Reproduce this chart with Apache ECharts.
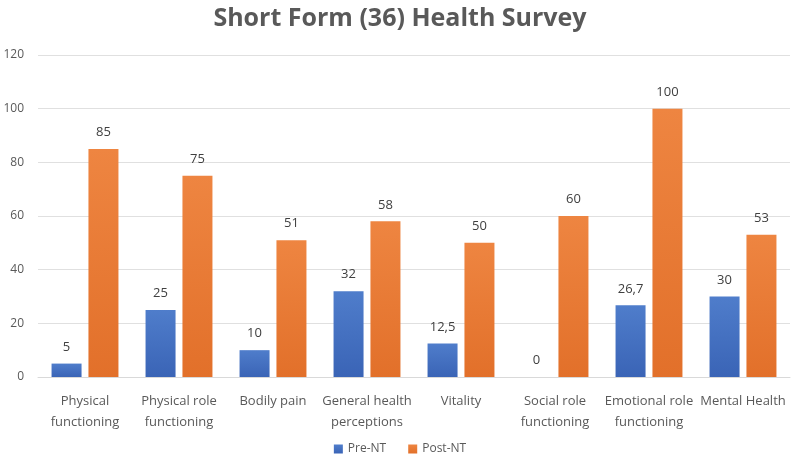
<!DOCTYPE html>
<html><head><meta charset="utf-8">
<script src="https://cdn.jsdelivr.net/npm/echarts@6/dist/echarts.min.js"></script>
<style>html,body{margin:0;padding:0;background:#fff}#c{width:800px;height:461px}</style>
</head><body><div id="c"></div>
<script>
const categories = ["Physical\nfunctioning","Physical role\nfunctioning","Bodily pain","General health\nperceptions","Vitality","Social role\nfunctioning","Emotional role\nfunctioning","Mental Health"];
const preNT = [5, 25, 10, 32, 12.5, 0, 26.7, 30];
const postNT = [85, 75, 51, 58, 50, 60, 100, 53];
const yTicks = {min: 0, max: 120, interval: 20};
const seriesNames = ["Pre-NT", "Post-NT"];

const font = "'Open Sans', 'Liberation Sans', sans-serif";
const fmt = p => String(p.value).replace('.', ',');
function grad(top, bottom){
  return new echarts.graphic.LinearGradient(0,0,0,1,[{offset:0,color:top},{offset:1,color:bottom}]);
}
const chart = echarts.init(document.getElementById('c'), null, {renderer:'canvas'});
chart.setOption({
  animation: false,
  title: {text: 'Short Form (36) Health Survey', left: 'center', top: 1,
    textStyle: {fontFamily: font, fontSize: 25, fontWeight: 'bold', color: '#595959'}},
  legend: {bottom: 1, left: 'center', itemWidth: 9, itemHeight: 9, itemGap: 22, icon: 'rect',
    textStyle: {fontFamily: font, fontSize: 12, color: '#595959'}, data: seriesNames},
  grid: {left: 38, right: 10, top: 55, bottom: 84, containLabel: false},
  xAxis: {type: 'category', data: categories,
    axisLine: {lineStyle: {color: '#d9d9d9'}}, axisTick: {show: false},
    axisLabel: {fontFamily: font, fontSize: 13, color: '#595959', interval: 0, margin: 14, lineHeight: 21}},
  yAxis: {type: 'value', min: yTicks.min, max: yTicks.max, interval: yTicks.interval,
    axisLine: {show: false}, axisTick: {show: false},
    splitLine: {lineStyle: {color: '#e0e0e0'}},
    axisLabel: {fontFamily: font, fontSize: 12, color: '#595959', margin: 14}},
  series: [
    {name: seriesNames[0], type: 'bar', data: preNT, barWidth: 30, barGap: '23%',
     itemStyle: {color: grad('#4f7dcb', '#3a64b6')},
     label: {show: true, position: 'top', distance: 10, formatter: fmt, fontFamily: font, fontSize: 13, color: '#404040'}},
    {name: seriesNames[1], type: 'bar', data: postNT, barWidth: 30,
     itemStyle: {color: grad('#ee8541', '#e2702a')},
     label: {show: true, position: 'top', distance: 10, formatter: fmt, fontFamily: font, fontSize: 13, color: '#404040'}}
  ]
});
</script></body></html>
